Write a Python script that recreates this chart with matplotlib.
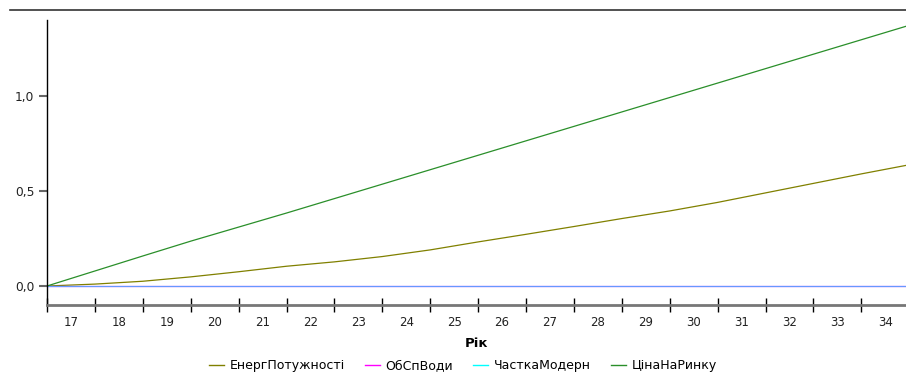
import numpy as np
import matplotlib
matplotlib.use("Agg")
import matplotlib.pyplot as plt
from matplotlib.lines import Line2D

# Data
years = [17, 18, 19, 20, 21, 22, 23, 24, 25, 26, 27, 28, 29, 30, 31, 32, 33, 34, 35]
energ = [0.0, 0.010, 0.025, 0.048, 0.075, 0.104, 0.127, 0.155, 0.190, 0.232,
         0.272, 0.313, 0.355, 0.395, 0.440, 0.490, 0.540, 0.590, 0.638]
obsp = [0.0] * len(years)
chastka = [0.0] * len(years)
cina = [0.0, 0.079, 0.158, 0.236, 0.310, 0.384, 0.460, 0.536, 0.612, 0.688,
        0.764, 0.840, 0.916, 0.992, 1.068, 1.144, 1.220, 1.296, 1.372]
year_labels = [str(y) for y in range(17, 35)]
names = ["ЕнергПотужності", "ОбСпВоди", "ЧасткаМодерн", "ЦінаНаРинку"]

plt.rcParams["font.family"] = ["DejaVu Sans"]

W, H = 906, 378
fig = plt.figure(figsize=(W / 100, H / 100), dpi=100)
ax = fig.add_axes([47 / W, (H - 305) / H, (906 - 47) / W, (305 - 20) / H])

lw = 0.9
ax.plot(years, energ, color="#808000", lw=lw)
ax.plot(years, obsp, color="#ff00ff", lw=lw)
# cyan drawn over magenta, blends to the light blue seen at zero
ax.plot(years, chastka, color="#00ffff", lw=lw, alpha=0.6)
ax.plot(years, cina, color="#2a8f2a", lw=lw)

ax.set_xlim(17, 17 + 859 / 47.9)
ax.set_ylim(-0.1, 1.4)

# x axis: boundary ticks, labels centred in each year
ax.set_xticks(range(17, 35))
ax.set_xticklabels([])
ax.set_xticks([y + 0.5 for y in range(17, 35)], minor=True)
ax.set_xticklabels(year_labels, minor=True, fontsize=8.5, color="#222222")
ax.tick_params(axis="x", which="major", direction="inout", length=10, width=1, color="black")
ax.tick_params(axis="x", which="minor", length=0, pad=8)

ax.set_yticks([0.0, 0.5, 1.0])
ax.set_yticklabels(["0,0", "0,5", "1,0"], fontsize=8.8, color="#222222")
ax.tick_params(axis="y", direction="out", length=6, width=1.5, color="#666666", pad=3)

ax.spines["top"].set_visible(False)
ax.spines["right"].set_visible(False)
ax.spines["left"].set_color("black")
ax.spines["left"].set_linewidth(1)
ax.spines["bottom"].set_color("#777777")
ax.spines["bottom"].set_linewidth(2)

ax.set_xlabel("Рік", fontsize=9.5, fontweight="bold", labelpad=6)

# top rule
fig.add_artist(Line2D([10 / W, 1], [1 - 10 / H, 1 - 10 / H], color="#333333", lw=1.2))

handles = [Line2D([], [], color=c, lw=1) for c in ["#808000", "#ff00ff", "#00ffff", "#2a8f2a"]]
fig.legend(handles, names, loc="center", bbox_to_anchor=(463 / W, 1 - 366 / H), ncol=4,
           frameon=False, fontsize=9, handlelength=1.2, handletextpad=0.45, columnspacing=1.6)

fig.savefig("out.png", dpi=100)
